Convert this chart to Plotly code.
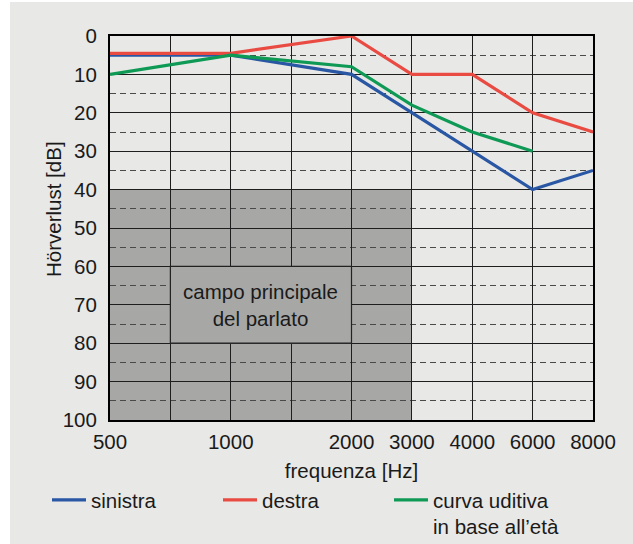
import plotly.graph_objects as go

# ---- data ----
freq_categories = ["500", "750", "1000", "1500", "2000", "3000", "4000", "6000", "8000"]
freq_labels = ["500", "", "1000", "", "2000", "3000", "4000", "6000", "8000"]

sinistra_x = ["500", "1000", "2000", "3000", "4000", "6000", "8000"]
sinistra_y = [5, 5, 10, 20, 30, 40, 35]

destra_x = ["500", "1000", "2000", "3000", "4000", "6000", "8000"]
destra_y = [4.5, 4.5, 0, 10, 10, 20, 25]

eta_x = ["500", "1000", "2000", "3000", "4000", "6000"]
eta_y = [10, 5, 8, 18, 25, 30]

db_ticks = list(range(0, 101, 10))

speech_field = {"f0": "500", "f1": "3000", "db0": 40, "db1": 100}
speech_label_box = {"f0": "750", "f1": "2000", "db0": 60, "db1": 80}
speech_label = "campo principale<br>del parlato"

series_names = ["sinistra", "destra", "curva uditiva<br>in base all’età"]
x_title = "frequenza [Hz]"
y_title = "Hörverlust [dB]"

# ---- style ----
FONT = "Liberation Sans, Arial, sans-serif"
FS = 20.5
TXT = "#1a1a1a"
BG = "#e8e8e6"
GRAYFIELD = "#a7a7a6"
COLORS = ["#2a57a4", "#e94b43", "#0e9a55"]

W, H = 633, 544
ML, MR, MT, MB = 110, 40, 36, 124
PW, PH = W - ML - MR, H - MT - MB

fig = go.Figure()
for name, xs, ys, col in zip(series_names,
                             [sinistra_x, destra_x, eta_x],
                             [sinistra_y, destra_y, eta_y], COLORS):
    fig.add_trace(go.Scatter(x=xs, y=ys, mode="lines", name=name,
                             line=dict(color=col, width=3.2)))

idx = {c: i for i, c in enumerate(freq_categories)}

# speech field (below grid)
fig.add_shape(type="rect", xref="x", yref="y",
              x0=idx[speech_field["f0"]], x1=idx[speech_field["f1"]],
              y0=speech_field["db0"], y1=speech_field["db1"],
              fillcolor=GRAYFIELD, line=dict(width=0), layer="below")
# label box (above grid)
fig.add_shape(type="rect", xref="x", yref="y",
              x0=idx[speech_label_box["f0"]], x1=idx[speech_label_box["f1"]],
              y0=speech_label_box["db0"], y1=speech_label_box["db1"],
              fillcolor=GRAYFIELD, line=dict(color="#222", width=1.2), layer="above")
fig.add_annotation(x=(idx[speech_label_box["f0"]] + idx[speech_label_box["f1"]]) / 2,
                   y=(speech_label_box["db0"] + speech_label_box["db1"]) / 2,
                   xref="x", yref="y", text=speech_label, showarrow=False,
                   font=dict(family=FONT, size=FS, color=TXT))

# y-axis title as rotated annotation
fig.add_annotation(x=(53 - ML) / PW, y=(MT + PH - 209) / PH, xref="paper", yref="paper",
                   text=y_title, textangle=-90, showarrow=False,
                   xanchor="center", yanchor="middle",
                   font=dict(family=FONT, size=FS, color=TXT))

# white outer strips (left and top)
fig.add_shape(type="rect", xref="paper", yref="paper",
              x0=-ML / PW, x1=-(ML - 10) / PW, y0=-MB / PH, y1=1 + MT / PH,
              fillcolor="white", line=dict(width=0), layer="above")
fig.add_shape(type="rect", xref="paper", yref="paper",
              x0=-ML / PW, x1=1 + MR / PW, y0=1 + (MT - 2) / PH, y1=1 + MT / PH,
              fillcolor="white", line=dict(width=0), layer="above")

fig.update_xaxes(type="category", categoryorder="array", categoryarray=freq_categories,
                 range=[0, len(freq_categories) - 1], automargin=False,
                 tickmode="array", tickvals=freq_categories, ticktext=freq_labels,
                 showgrid=True, gridcolor="#1e1e1e", gridwidth=1.3,
                 showline=True, mirror=True, linecolor="black", linewidth=2,
                 ticks="", ticklabelstandoff=2,
                 tickfont=dict(family=FONT, size=FS, color=TXT),
                 title=dict(text=x_title, font=dict(family=FONT, size=FS, color=TXT),
                            standoff=12),
                 zeroline=False)
fig.update_yaxes(range=[100, 0], tickmode="array", tickvals=db_ticks, automargin=False,
                 showgrid=True, gridcolor="#1e1e1e", gridwidth=1.3,
                 minor=dict(dtick=5, showgrid=True, gridcolor="#4a4a4a", gridwidth=1,
                            griddash="6px,4px", tick0=0),
                 showline=True, mirror=True, linecolor="black", linewidth=2,
                 ticks="", ticklabelstandoff=7,
                 tickfont=dict(family=FONT, size=FS, color=TXT),
                 zeroline=False)

fig.update_layout(
    width=W, height=H,
    margin=dict(l=ML, r=MR, t=MT, b=MB, autoexpand=False),
    paper_bgcolor=BG, plot_bgcolor=BG,
    font=dict(family=FONT, size=FS, color=TXT),
    showlegend=True,
    legend=dict(orientation="h", x=(47 - ML) / PW, xanchor="left",
                y=-(60) / PH, yanchor="top",
                entrywidth=122, entrywidthmode="pixels", valign="top",
                bgcolor="rgba(0,0,0,0)", font=dict(family=FONT, size=FS, color=TXT),
                traceorder="normal", itemwidth=34),
)

fig.write_html("out.html", config={"displayModeBar": False},
               post_script="document.body.style.margin='0px';")
